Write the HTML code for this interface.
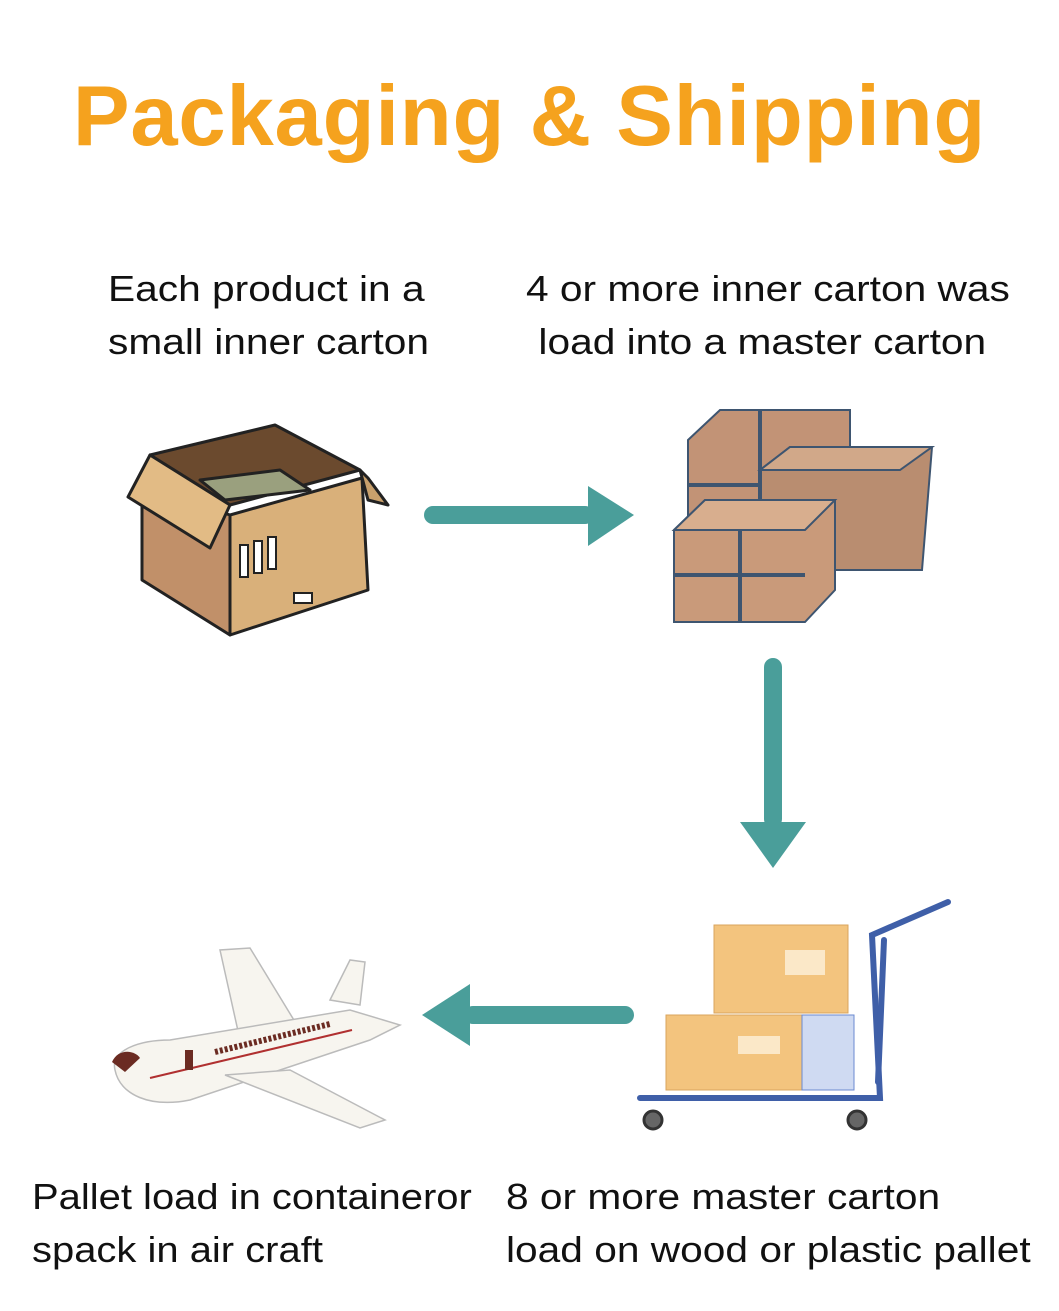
<!DOCTYPE html>
<html><head><meta charset="utf-8"><style>
html,body{margin:0;padding:0;background:#fff;}
body{width:1059px;height:1311px;position:relative;overflow:hidden;font-family:"Liberation Sans",sans-serif;}
.t{position:absolute;color:#111;font-size:36px;line-height:53px;white-space:nowrap;transform:scaleX(1.13);transform-origin:0 0;}
</style></head><body>
<div style="position:absolute;left:0;top:68px;width:1059px;text-align:center;font-weight:bold;font-size:85px;color:#f5a21e;letter-spacing:0.8px;">Packaging &amp; Shipping</div>
<div class="t" style="left:108px;top:262px;">Each product in a<br>small inner carton</div>
<div class="t" style="left:526px;top:262px;">4 or more inner carton was<br><span style="padding-left:11px">load into a master carton</span></div>
<div class="t" style="left:32px;top:1170px;transform:scaleX(1.11);">Pallet load in containeror<br>spack in air craft</div>
<div class="t" style="left:506px;top:1170px;">8 or more master carton<br>load on wood or plastic pallet</div>
<svg width="1059" height="1311" style="position:absolute;left:0;top:0">
<g stroke="#222" stroke-width="3" stroke-linejoin="round">
<polygon points="150,455 275,425 360,470 230,505" fill="#6b4a2e"/>
<polygon points="200,480 280,470 310,490 225,500" fill="#9aa07e"/>
<polygon points="142,485 230,515 230,635 142,580" fill="#c19069"/>
<polygon points="230,515 362,478 368,590 230,635" fill="#d9b07a"/>
<polygon points="150,455 230,505 210,548 128,497" fill="#e2bb85"/>
<polygon points="360,470 368,478 388,505 368,500" fill="#c8a06c"/>
</g>
<g stroke="#222" stroke-width="2" fill="#fff"><rect x="240" y="545" width="8" height="32"/><rect x="254" y="541" width="8" height="32"/><rect x="268" y="537" width="8" height="32"/><rect x="294" y="593" width="18" height="10"/></g>
<g fill="#4a9e9a">
<rect x="424" y="506" width="170" height="18" rx="9"/><polygon points="588,486 634,515 588,546"/>
<rect x="764" y="658" width="18" height="170" rx="9"/><polygon points="740,822 806,822 773,868"/>
<rect x="464" y="1006" width="170" height="18" rx="9"/><polygon points="470,984 422,1015 470,1046"/>
</g>
<g stroke="#3e5570" stroke-width="2">
<polygon points="688,440 720,410 850,410 850,520 688,520" fill="#c29376"/>
<polygon points="760,470 790,447 932,447 922,570 760,570" fill="#b98d70"/>
<polygon points="790,447 932,447 900,470 760,470" fill="#d1a889"/>
<polygon points="674,530 705,500 835,500 835,590 805,622 674,622" fill="#c99a7a"/>
<polygon points="674,530 705,500 835,500 805,530" fill="#d8ae8e"/>
<line x1="740" y1="530" x2="740" y2="622" stroke-width="4"/><line x1="674" y1="575" x2="805" y2="575" stroke-width="4"/>
<line x1="760" y1="410" x2="760" y2="500" stroke-width="4"/><line x1="688" y1="485" x2="760" y2="485" stroke-width="4"/>
</g>
<rect x="714" y="925" width="134" height="88" fill="#f3c47e" stroke="#d9a45e"/>
<rect x="785" y="950" width="40" height="25" fill="#fbe8c8"/>
<rect x="666" y="1015" width="136" height="75" fill="#f3c47e" stroke="#d9a45e"/>
<rect x="738" y="1036" width="42" height="18" fill="#fbe8c8"/>
<rect x="802" y="1015" width="52" height="75" fill="#cfdaf2" stroke="#6b8ad0"/>
<g stroke="#3f5fa8" stroke-width="6" fill="none" stroke-linecap="round">
<path d="M640 1098 H880 L872 935 L948 902"/>
<path d="M878 1082 L884 940"/>
</g>
<g fill="#666" stroke="#333" stroke-width="3"><circle cx="653" cy="1120" r="9"/><circle cx="857" cy="1120" r="9"/></g>
<g stroke="#bbb" stroke-width="1.5" fill="#f7f5ef">
<polygon points="240,1040 220,950 250,948 300,1030"/>
<polygon points="330,1000 350,960 365,962 360,1005"/>
<path d="M115,1070 C110,1050 140,1040 170,1040 L350,1010 L400,1025 L370,1040 L190,1100 C150,1108 120,1095 115,1070 Z"/>
<polygon points="225,1075 290,1070 385,1120 360,1128"/>
</g>
<path d="M112,1062 C118,1048 135,1050 140,1058 L125,1072 Z" fill="#6b2b22"/>
<line x1="150" y1="1078" x2="352" y2="1030" stroke="#b03030" stroke-width="2"/>
<rect x="185" y="1050" width="8" height="20" fill="#6b2b22"/>
<line x1="215" y1="1052" x2="330" y2="1024" stroke="#6b2b22" stroke-width="6" stroke-dasharray="3,2"/>
</svg>
</body></html>
